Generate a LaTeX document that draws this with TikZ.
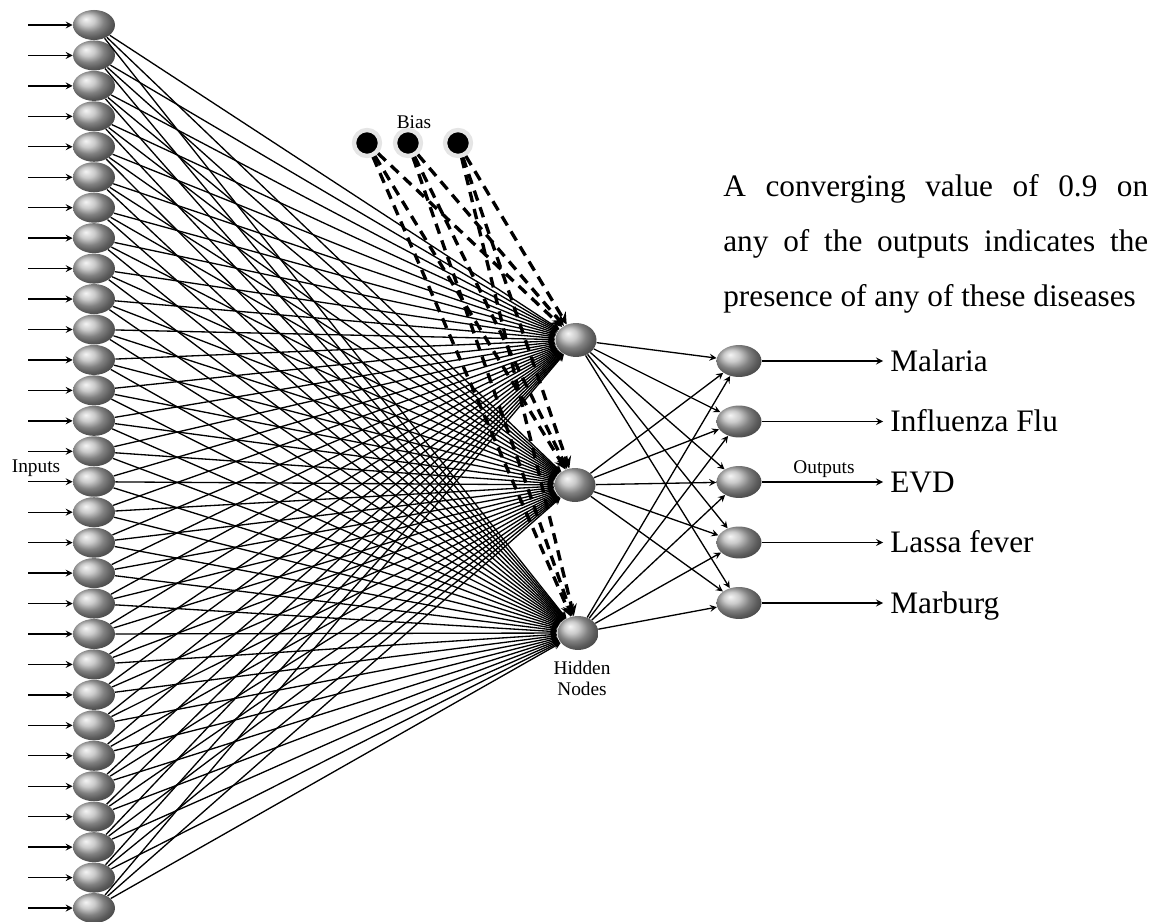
\documentclass[tikz,border=0pt]{standalone}
\usepackage{fontspec}
\setmainfont{Liberation Serif}
\usetikzlibrary{arrows}
\usetikzlibrary{shapes}

\begin{document}
\begin{tikzpicture}[x=0.02cm, y=-0.02cm, >=stealth,
					every node/.style = {inner sep=0pt},
					neuron_node/.style = {ellipse, shading=ball, ball color=gray!55, minimum width=0.84cm, minimum height=0.6cm}]

\tikzstyle{hidden_node} = [neuron_node, minimum width=0.82cm, minimum height=0.68cm]
\tikzstyle{output_node} = [neuron_node, minimum width=0.9cm, minimum height=0.64cm]
\tikzstyle{bias_node} = [circle, fill=black, draw=gray!20, line width=2.5pt, minimum size=0.52cm]
\tikzstyle{small_label} = [font=\fontsize{11}{12}\selectfont, align=center]
\tikzstyle{disease_label} = [anchor=west, inner xsep=4pt, text height=11.7pt, text depth=0pt, font=\fontsize{17.8}{20}\selectfont]
\tikzstyle{weight} = [->, line width=0.75pt]
\tikzstyle{bias_weight} = [->, line width=1.9pt, dash pattern=on 6pt off 4pt]

\useasboundingbox (0,0) rectangle (1171,922);

\foreach \i in {1,...,30} {
	\pgfmathsetmacro{\ypos}{25+(\i-1)*30.45}
	\coordinate (src\i) at (28,\ypos);
	\node[neuron_node] (in\i) at (94,\ypos) {};
	\draw[weight] (src\i) -- (in\i);
}

\node[hidden_node] (hid1) at (576,340) {};
\node[hidden_node] (hid2) at (575,485) {};
\node[hidden_node] (hid3) at (578,633) {};

\foreach \x [count=\b] in {367,408,458}
	\node[bias_node] (bias\b) at (\x,143) {};

\foreach \name [count=\o] in {Malaria, Influenza Flu, EVD, Lassa fever, Marburg} {
	\pgfmathsetmacro{\ypos}{361+(\o-1)*60.5}
	\node[output_node] (out\o) at (739,\ypos) {};
	\node[disease_label] (dis\o) at (883,\ypos) {\name};
	\draw[weight] (out\o) -- (dis\o);
}

\foreach \i in {1,...,30}
	\foreach \h in {1,2,3}
		\draw[weight] (in\i) -- (hid\h);
\foreach \b in {1,2,3}
	\foreach \h in {1,2,3}
		\draw[bias_weight] (bias\b) -- (hid\h);
\foreach \h in {1,2,3}
	\foreach \o in {1,...,5}
		\draw[weight] (hid\h) -- (out\o);

\node[small_label] (bias_text) at (414,122) {Bias};
\node[small_label] (inputs_text) at (36,468) {Inputs};
\node[small_label] (outputs_text) at (824,469) {Outputs};
\node[small_label] (hidden_text) at (582,678) {Hidden\\Nodes};

\node[anchor=north west, text width=8.5cm, align=justify, font=\fontsize{17.8}{31.2}\selectfont] (note) at (723,174) {A converging value of 0.9 on\linebreak any of the outputs indicates the\linebreak presence of any of these diseases};
\end{tikzpicture}
\end{document}
